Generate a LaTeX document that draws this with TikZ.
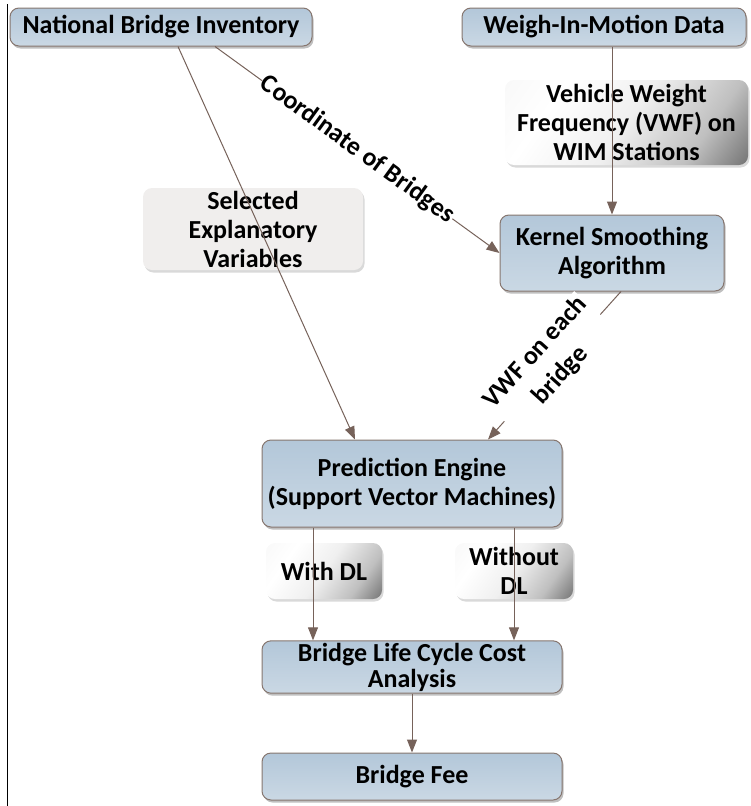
\documentclass[tikz,border=0pt]{standalone}
\usepackage{fontspec}
\setmainfont{Carlito}
\usetikzlibrary{arrows.meta,shadows}
\definecolor{boxtop}{HTML}{B3C7D9}
\definecolor{boxbot}{HTML}{CAD8E4}
\definecolor{boxline}{HTML}{86766F}
\definecolor{arr}{HTML}{76625A}
\definecolor{lblgray}{HTML}{F0EEED}
\pgfdeclarehorizontalshading{lblshade}{100bp}{color(0bp)=(black!5); color(30bp)=(white); color(50bp)=(black!6); color(70bp)=(black!25); color(85bp)=(black!55); color(100bp)=(black!90)}
\tikzset{
  txt/.style={font=\fontsize{26}{29}\selectfont\bfseries},
  mainbox/.style={txt, draw=boxline, line width=1pt, rounded corners=9pt, top color=boxtop, bottom color=boxbot,
    align=center, inner sep=2pt,
    drop shadow={shadow xshift=1.5pt, shadow yshift=-2.5pt, fill=black, opacity=0.25}},
  graybox/.style={txt, rounded corners=9pt, fill=lblgray, align=center, inner sep=2pt,
    drop shadow={shadow xshift=1.5pt, shadow yshift=-2.5pt, fill=black, opacity=0.15}},
  shadebox/.style={txt, rounded corners=9pt, shading=lblshade, shading angle=-35, align=center, inner sep=2pt,
    drop shadow={shadow xshift=1.5pt, shadow yshift=-2.5pt, fill=black, opacity=0.15}},
  conn/.style={draw=arr, line width=1pt, -{Triangle[length=13pt,width=10pt]}},
  edgelbl/.style={txt, fill=white, inner sep=1pt, align=center}
}
\begin{document}
\begin{tikzpicture}[x=1pt,y=-1pt]
\useasboundingbox (0,0) rectangle (751,806);
\draw[black, line width=1pt] (7,4) -- (7,806);
% label boxes
\node[graybox, minimum width=220pt, minimum height=82pt] (sel) at (253,229) {Selected\\Explanatory\\Variables};
\node[shadebox, minimum width=243pt, minimum height=85pt] (vwf) at (626.5,122.5) {Vehicle Weight\\Frequency (VWF) on\\WIM Stations};
\node[shadebox, minimum width=116pt, minimum height=56pt] (with) at (324,571) {With DL};
\node[shadebox, minimum width=118pt, minimum height=56pt] (without) at (514,571) {Without\\DL};
% main boxes
\node[mainbox, minimum width=302pt, minimum height=38pt] (nbi) at (161,27) {National Bridge Inventory};
\node[mainbox, minimum width=284pt, minimum height=38pt] (wim) at (604,27) {Weigh-In-Motion Data};
\node[mainbox, minimum width=224pt, minimum height=76pt] (kern) at (612,253) {Kernel Smoothing\\Algorithm};
\node[mainbox, minimum width=300pt, minimum height=87pt] (pred) at (412,483.5) {Prediction Engine\\(Support Vector Machines)};
\node[mainbox, minimum width=300pt, minimum height=50pt] (blcca) at (412,667) {Bridge Life Cycle Cost\\[-3pt]Analysis};
\node[mainbox, minimum width=300pt, minimum height=47pt] (fee) at (412,776.5) {Bridge Fee};
% connectors
\draw[conn] ([xshift=17pt]nbi.south) -- ([xshift=-57pt]pred.north);
\draw[conn] ([xshift=54pt]nbi.south) -- node[edgelbl, sloped, midway] (coordlbl) {Coordinate of Bridges} (kern.west);
\draw[conn] (wim.south -| kern.north) -- (kern.north);
\draw[conn] ([xshift=9pt]kern.south) -- ([xshift=76pt]pred.north);
\node[edgelbl, rotate=48, font=\fontsize{26}{34}\selectfont\bfseries] (vwflbl) at (548,364) {VWF on each\\bridge};
\draw[conn] (pred.south -| with) ++(-11pt,0) coordinate (w1) -- (w1 |- blcca.north);
\draw[conn] (pred.south -| without) coordinate (w2) -- (w2 |- blcca.north);
\draw[conn] (blcca.south) -- (fee.north);
\end{tikzpicture}
\end{document}
